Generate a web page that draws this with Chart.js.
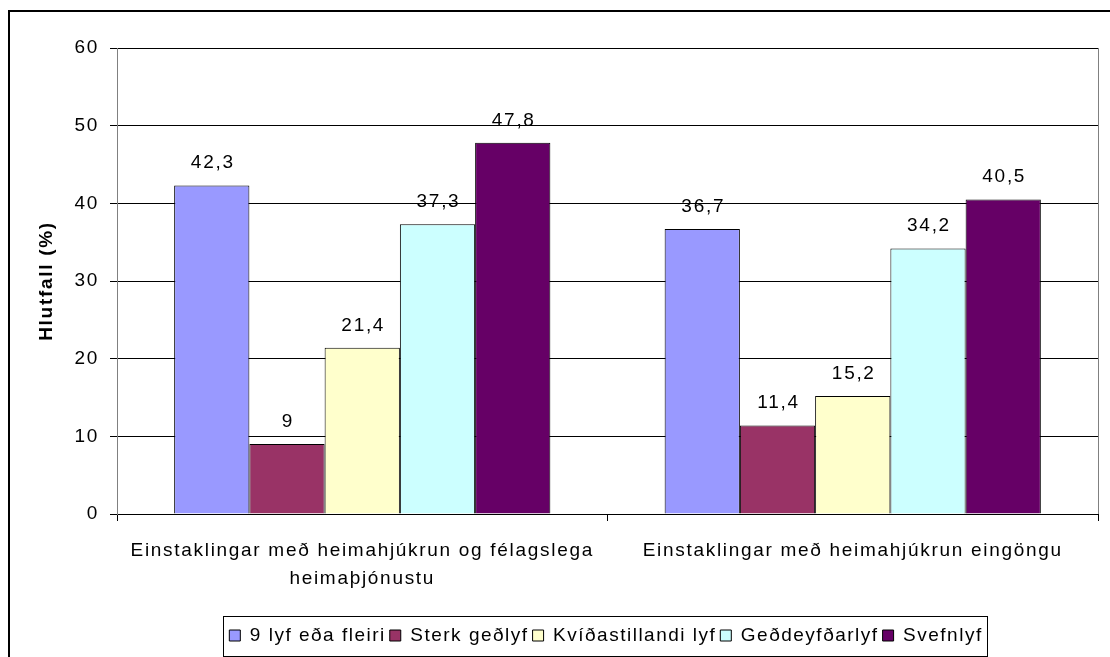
<!DOCTYPE html>
<html>
<head>
<meta charset="utf-8">
<script src="https://cdn.jsdelivr.net/npm/chart.js@4"></script>
<style>
    html, body { margin: 0; padding: 0; background: #fff; }
    #wrap { width: 1110px; height: 657px; }
</style>
</head>
<body>
<div id="wrap"><canvas id="chart" width="1110" height="657"></canvas></div>
<script>
// Gögn úr myndinni
const categories = [
    ['Einstaklingar með heimahjúkrun og félagslega', 'heimaþjónustu'],
    'Einstaklingar með heimahjúkrun eingöngu'
];
const seriesNames = ['9 lyf eða fleiri', 'Sterk geðlyf', 'Kvíðastillandi lyf', 'Geðdeyfðarlyf', 'Svefnlyf'];
const nineOrMore = [42.3, 36.7];
const strongPsych = [9, 11.4];
const anxiolytics = [21.4, 15.2];
const antidepressants = [37.3, 34.2];
const sleepMeds = [47.8, 40.5];
const yTicks = [0, 10, 20, 30, 40, 50, 60];

const colors = ['#9999FF', '#993366', '#FFFFCC', '#CCFFFF', '#660066'];
const allSeries = [nineOrMore, strongPsych, anxiolytics, antidepressants, sleepMeds];

const FONT = '"Liberation Sans", Arial, sans-serif';
const TEXT_SPACING = '1.7px';   // gamla Excel letrið er gisið
const LEGEND_SPACING = '1.5px';
const LEGEND_SHIFT = 57;        // skýringin er ekki fyrir miðju
Chart.defaults.font.family = FONT;
Chart.defaults.color = '#000';

// Stafabil sett á teiknisvæðið (eftir að strigi er stilltur)
const spacingPlugin = {
    id: 'spacing',
    afterInit(chart) {
        chart.ctx.letterSpacing = TEXT_SPACING;
        const legend = chart.legend;
        const origFit = legend.fit;
        const origDraw = legend.draw;
        legend.fit = function () {
            const ctx = chart.ctx;
            ctx.save();
            ctx.letterSpacing = LEGEND_SPACING;
            origFit.apply(this, arguments);
            ctx.restore();
        };
        legend.draw = function () {
            const ctx = chart.ctx;
            ctx.save();
            ctx.letterSpacing = LEGEND_SPACING;
            ctx.translate(LEGEND_SHIFT, 0);
            origDraw.apply(this, arguments);
            ctx.restore();
        };
    }
};

// Rammi utan um myndina, teiknisvæðið og skýringuna
const framePlugin = {
    id: 'frames',
    beforeDraw(chart) {
        const ctx = chart.ctx;
        ctx.save();
        ctx.fillStyle = '#fff';
        ctx.fillRect(0, 0, chart.width, chart.height);
        ctx.strokeStyle = '#000';
        ctx.lineWidth = 2;
        ctx.strokeRect(9, 11, chart.width + 20, chart.height + 20);
        ctx.restore();
    },
    afterDraw(chart) {
        const ctx = chart.ctx;
        const a = chart.chartArea;
        ctx.save();
        ctx.strokeStyle = '#808080';
        ctx.lineWidth = 1;
        ctx.beginPath();
        ctx.moveTo(a.right + 0.5, a.top);
        ctx.lineTo(a.right + 0.5, a.bottom);
        ctx.stroke();
        const boxes = chart.legend.legendHitBoxes;
        if (boxes && boxes.length) {
            const left = Math.min(...boxes.map(b => b.left)) - 6 + LEGEND_SHIFT;
            const right = Math.max(...boxes.map(b => b.left + b.width)) + 5 + LEGEND_SHIFT;
            const top = boxes[0].top + boxes[0].height / 2 - 20;
            ctx.strokeStyle = '#000';
            ctx.strokeRect(Math.round(left) + 0.5, Math.round(top) + 0.5, Math.round(right - left), 40);
        }
        ctx.restore();
    }
};

// Gildin fyrir ofan súlurnar
const valueLabels = {
    id: 'valueLabels',
    afterDatasetsDraw(chart) {
        const ctx = chart.ctx;
        ctx.save();
        ctx.letterSpacing = TEXT_SPACING;
        ctx.font = '19px ' + FONT;
        ctx.fillStyle = '#000';
        ctx.textAlign = 'center';
        ctx.textBaseline = 'alphabetic';
        chart.data.datasets.forEach((ds, i) => {
            chart.getDatasetMeta(i).data.forEach((bar, j) => {
                const txt = String(ds.data[j]).replace('.', ',');
                ctx.fillText(txt, bar.x + 1, bar.y - 17);
            });
        });
        ctx.restore();
    }
};

new Chart(document.getElementById('chart').getContext('2d'), {
    type: 'bar',
    data: {
        labels: categories,
        datasets: seriesNames.map((name, i) => ({
            label: name,
            data: allSeries[i],
            backgroundColor: colors[i],
            borderColor: '#000',
            borderWidth: 1,
            borderSkipped: 'bottom',
            categoryPercentage: 0.767,
            barPercentage: 1
        }))
    },
    options: {
        responsive: false,
        animation: false,
        layout: { padding: { left: 0, top: 48, right: 12, bottom: 2 } },
        plugins: {
            legend: {
                position: 'bottom',
                labels: {
                    boxWidth: 11,
                    boxHeight: 11,
                    padding: 4,
                    color: '#000',
                    font: { size: 19 },
                    generateLabels(chart) {
                        return chart.data.datasets.map((ds, i) => ({
                            text: ds.label,
                            fillStyle: ds.backgroundColor,
                            strokeStyle: '#000',
                            lineWidth: 1,
                            datasetIndex: i
                        }));
                    }
                }
            },
            tooltip: { enabled: false }
        },
        scales: {
            x: {
                grid: {
                    offset: true,
                    drawOnChartArea: false,
                    drawTicks: true,
                    tickLength: 7,
                    color: '#000'
                },
                border: { color: '#000', width: 1 },
                ticks: { font: { size: 19, lineHeight: 1.48 }, padding: 16, maxRotation: 0, color: '#000' },
                afterFit(scale) { scale.height = 108; }
            },
            y: {
                min: 0,
                max: 60,
                afterBuildTicks(scale) { scale.ticks = yTicks.map(v => ({ value: v })); },
                grid: { color: '#000', tickLength: 7, lineWidth: 1 },
                border: { color: '#808080', width: 1 },
                ticks: { font: { size: 19 }, padding: 11, color: '#000' },
                title: {
                    display: true,
                    text: 'Hlutfall (%)',
                    font: { size: 19, weight: 'bold' },
                    padding: { top: 35, bottom: 0 }
                },
                afterFit(scale) { scale.width = 117; }
            }
        }
    },
    plugins: [spacingPlugin, framePlugin, valueLabels]
});
</script>
</body>
</html>
